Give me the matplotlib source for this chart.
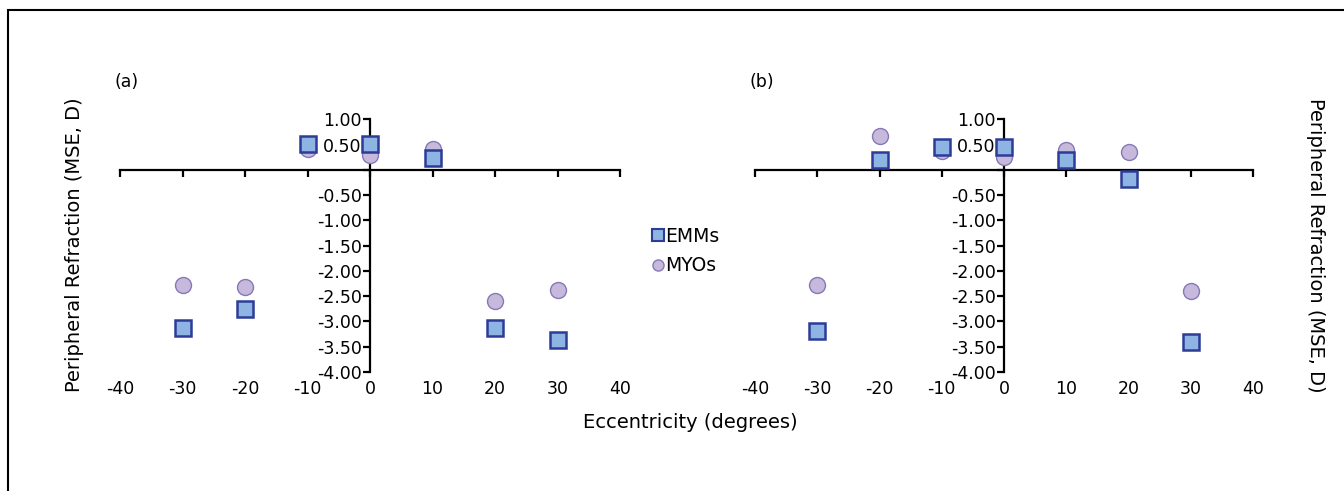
import matplotlib
matplotlib.use("Agg")
import matplotlib.pyplot as plt
from matplotlib.patches import Rectangle
from matplotlib.ticker import FuncFormatter

# ------------------------------------------------------------
# Data
# ------------------------------------------------------------
ECC = [-30, -20, -10, 0, 10, 20, 30]

EMM_A = [-3.12, -2.76, 0.51, 0.51, 0.24, -3.12, -3.36]
MYO_A = [-2.28, -2.31, 0.41, 0.29, 0.41, -2.60, -2.37]

EMM_B = [-3.18, 0.20, 0.46, 0.46, 0.20, -0.18, -3.41]
MYO_B = [-2.28, 0.66, 0.38, 0.25, 0.39, 0.35, -2.40]

X_TICKS = [-40, -30, -20, -10, 0, 10, 20, 30, 40]
Y_TICKS = [1.0, 0.5, 0.0, -0.5, -1.0, -1.5, -2.0, -2.5, -3.0, -3.5, -4.0]

PANEL_LABELS = ["(a)", "(b)"]
SERIES_NAMES = ["EMMs", "MYOs"]

# ------------------------------------------------------------
# Styles
# ------------------------------------------------------------
SQ_FACE, SQ_EDGE = "#8db4e3", "#2e3c98"
CI_FACE, CI_EDGE = "#c6b9dc", "#8579b6"
FS_TICK = 12.5
FS_LABEL = 14

plt.rcParams["font.family"] = ["DejaVu Sans"]
plt.rcParams["axes.unicode_minus"] = False

fig = plt.figure(figsize=(13.44, 4.91), dpi=100)

# outer frame (only top and left edges visible in the reference)
fig.patches.append(Rectangle((8 / 1344, -0.1), 1.2, 1 - 10 / 491 + 0.1,
                             transform=fig.transFigure, fill=False,
                             edgecolor="black", linewidth=1.5))

axes_pos = [
    [120 / 1344, 0.2424, 500 / 1344, 0.5146],
    [755 / 1344, 0.2424, 498 / 1344, 0.5146],
]
panels = [(EMM_A, MYO_A), (EMM_B, MYO_B)]

y_fmt = FuncFormatter(lambda v, p: "" if abs(v) < 1e-9 else f"{v:.2f}")

for pos, (emm, myo), lab in zip(axes_pos, panels, PANEL_LABELS):
    ax = fig.add_axes(pos)
    ax.set_xlim(-40, 40)
    ax.set_ylim(-4.0, 1.0)

    ax.spines["left"].set_position(("data", 0))
    ax.spines["bottom"].set_position(("data", 0))
    ax.spines["top"].set_visible(False)
    ax.spines["right"].set_visible(False)
    for s in ("left", "bottom"):
        ax.spines[s].set_linewidth(1.6)
        ax.spines[s].set_zorder(1)

    ax.set_xticks(X_TICKS)
    ax.set_yticks(Y_TICKS)
    ax.yaxis.set_major_formatter(y_fmt)
    ax.tick_params(axis="x", direction="out", length=5, width=1.6,
                   labelbottom=False)
    ax.tick_params(axis="y", direction="out", length=5, width=1.6,
                   labelsize=FS_TICK, pad=1)

    # x tick labels sit at the bottom of the panel, Excel style
    sec = ax.secondary_xaxis(0)
    sec.set_xticks(X_TICKS)
    sec.spines["bottom"].set_visible(False)
    sec.tick_params(length=0, pad=6, labelsize=FS_TICK)

    ax.plot(ECC, myo, linestyle="none", marker="o", ms=11.5,
            mfc=CI_FACE, mec=CI_EDGE, mew=1.0, zorder=4, clip_on=False)
    ax.plot(ECC, emm, linestyle="none", marker="s", ms=11.5,
            mfc=SQ_FACE, mec=SQ_EDGE, mew=1.8, zorder=5, clip_on=False)

    ax.text(pos[0] - 5 / 1344, 0.833, lab, transform=fig.transFigure,
            fontsize=FS_TICK, ha="left", va="center")

# legend in the centre gap
h_sq, = plt.plot([], [], linestyle="none", marker="s", ms=8,
                 mfc=SQ_FACE, mec=SQ_EDGE, mew=1.5)
h_ci, = plt.plot([], [], linestyle="none", marker="o", ms=8,
                 mfc=CI_FACE, mec=CI_EDGE, mew=1.0)
fig.legend([h_sq, h_ci], SERIES_NAMES, loc="center left",
           bbox_to_anchor=(643 / 1344, 1 - 251 / 491), frameon=False,
           fontsize=13.5, handlelength=0.6, handletextpad=0.1,
           labelspacing=0.55, borderpad=0)

fig.text(75 / 1344, 1 - 245 / 491, "Peripheral Refraction (MSE, D)",
         rotation=90, ha="center", va="center", fontsize=FS_LABEL)
fig.text(1316 / 1344, 1 - 245 / 491, "Peripheral Refraction (MSE, D)",
         rotation=-90, ha="center", va="center", fontsize=FS_LABEL)
fig.text(690 / 1344, 1 - 423 / 491, "Eccentricity (degrees)",
         ha="center", va="center", fontsize=FS_LABEL)

fig.savefig("out.png", dpi=100)
